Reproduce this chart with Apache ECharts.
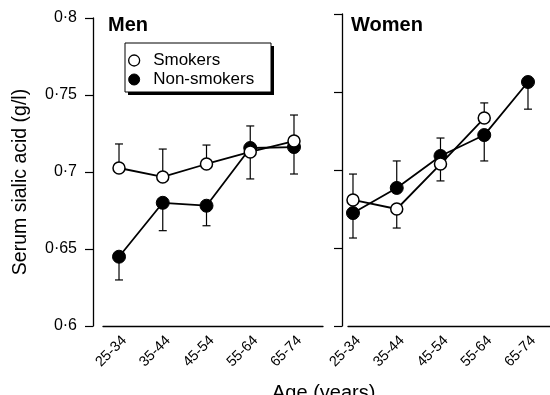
<!DOCTYPE html>
<html><head><meta charset="utf-8">
<script src="https://cdn.jsdelivr.net/npm/echarts@6/dist/echarts.min.js"></script>
<style>html,body{margin:0;padding:0;background:#fff}#c{width:550px;height:395px}</style>
</head><body><div id="c"></div>
<script>
const categories = ['25-34','35-44','45-54','55-64','65-74'];
const yTicks = [0.6, 0.65, 0.7, 0.75, 0.8];
const yTickLabels = ['0·6','0·65','0·7','0·75','0·8'];
// Men
const menSmokers = [0.7026, 0.6968, 0.7052, 0.713, 0.7201];
const menSmokersErr = [0.7182, 0.7149, 0.7175, 0.7299, 0.737];
const menNon = [0.645, 0.680, 0.6781, 0.7156, 0.7162];
const menNonErr = [0.6299, 0.6619, 0.6651, 0.6955, 0.6987];
// Women
const womenSmokers = [0.6808, 0.675, 0.7038, 0.7333, null];
const womenSmokersErr = [0.6974, 0.6628, 0.693, 0.743, null];
const womenNon = [0.6724, 0.6885, 0.709, 0.7224, 0.7564];
const womenNonErr = [0.6564, 0.7058, 0.7205, 0.7058, 0.739];

const FONT = 'Liberation Sans, Arial, Helvetica, sans-serif';

function pts(vals){ return vals.map((v,i)=>[i,v]).filter(d=>d[1]!=null); }
function errPts(vals, errs){ return vals.map((v,i)=>[i,v,errs[i]]).filter(d=>d[1]!=null && d[2]!=null); }
function errRender(params, api){
  const x = api.value(0), v = api.value(1), e = api.value(2);
  const p1 = api.coord([x, v]), p2 = api.coord([x, e]);
  const hw = 4;
  const st = {stroke:'#000', lineWidth:1.2};
  return {type:'group', children:[
    {type:'line', shape:{x1:p1[0],y1:p1[1],x2:p2[0],y2:p2[1]}, style:st},
    {type:'line', shape:{x1:p2[0]-hw,y1:p2[1],x2:p2[0]+hw,y2:p2[1]}, style:st}
  ]};
}
function xAxis(idx, min, max){
  return {
    type:'value', gridIndex:idx, min:min, max:max,
    axisLine:{show:true, onZero:false, lineStyle:{color:'#000', width:1.3}},
    axisTick:{show:false}, splitLine:{show:false},
    axisLabel:{customValues:[0,1,2,3,4], formatter:v=>categories[Math.round(v)],
      rotate:45, fontSize:14.5, color:'#000', fontFamily:FONT, margin:7,
      verticalAlign:'top'}
  };
}
function yAxis(idx, showLabels, offset){
  return {
    type:'value', gridIndex:idx, min:0.6, max:0.8, interval:0.05, offset:offset,
    axisLine:{show:true, onZero:false, lineStyle:{color:'#000', width:1.3}},
    axisTick:{show:true, length:8, lineStyle:{color:'#000', width:1.2}},
    splitLine:{show:false},
    axisLabel:{show:showLabels, fontSize:16, color:'#000', fontFamily:FONT, margin:16,
      formatter:v=>{const k=yTicks.findIndex(t=>Math.abs(t-v)<1e-6); return k>=0?yTickLabels[k]:'';}}
  };
}
const openStyle = {color:'#fff', borderColor:'#000', borderWidth:1.5};
const fillStyle = {color:'#000', borderColor:'#000', borderWidth:1};
function lineSeries(name, idx, data, filled){
  return {
    type:'line', name:name, xAxisIndex:idx, yAxisIndex:idx, data:data,
    symbol:'circle', symbolSize: filled?13:12, showSymbol:true,
    lineStyle:{color:'#000', width:1.8}, itemStyle: filled?fillStyle:openStyle,
    emphasis:{disabled:true}, animation:false, z: filled?3:4
  };
}
function errSeries(idx, data){
  return {type:'custom', name:'err', xAxisIndex:idx, yAxisIndex:idx, data:data,
    renderItem:errRender, encode:{x:0, y:[1,2]}, clip:false, z:2, silent:true, animation:false};
}

const chart = echarts.init(document.getElementById('c'), null, {renderer:'canvas'});
chart.setOption({
  backgroundColor:'#fff',
  animation:false,
  textStyle:{fontFamily:FONT},
  grid:[
    {left:103, top:18, width:220, height:308},
    {left:348, top:14, width:202, height:312}
  ],
  xAxis:[ xAxis(0, -0.366, 4.663), xAxis(1, -0.114, 4.503) ],
  yAxis:[ yAxis(0, true, 10), yAxis(1, false, 6) ],
  title:[
    {text:'Men', left:108, top:15, padding:0, textStyle:{fontSize:20, fontWeight:'bold', color:'#000', fontFamily:FONT}},
    {text:'Women', left:351, top:15, padding:0, textStyle:{fontSize:20, fontWeight:'bold', color:'#000', fontFamily:FONT}}
  ],
  legend:{
    orient:'vertical', left:128, top:52, z:10,
    padding:0, itemGap:2, itemWidth:20, itemHeight:11,
    icon:'circle',
    textStyle:{fontSize:17, color:'#000', fontFamily:FONT, lineHeight:16, padding:[0,0,0,4]},
    data:[
      {name:'Smokers', itemStyle:{color:'#fff', borderColor:'#000', borderWidth:1.3}},
      {name:'Non-smokers', itemStyle:{color:'#000', borderColor:'#000', borderWidth:1}}
    ]
  },
  graphic:[
    {type:'rect', z:1, shape:{x:128, y:46, width:146, height:49}, style:{fill:'#000'}},
    {type:'rect', z:2, shape:{x:125, y:43, width:146, height:49}, style:{fill:'#fff', stroke:'#000', lineWidth:1}},
    {type:'text', x:21, y:182, rotation:Math.PI/2,
      style:{text:'Serum sialic acid (g/l)', fill:'#000', font:'19.5px '+FONT, textAlign:'center', textVerticalAlign:'middle'}},
    {type:'text', x:272, y:383,
      style:{text:'Age (years)', fill:'#000', font:'20px '+FONT, textAlign:'left', textVerticalAlign:'top'}}
  ],
  series:[
    errSeries(0, errPts(menNon, menNonErr)),
    errSeries(0, errPts(menSmokers, menSmokersErr)),
    lineSeries('Non-smokers', 0, pts(menNon), true),
    lineSeries('Smokers', 0, pts(menSmokers), false),
    errSeries(1, errPts(womenNon, womenNonErr)),
    errSeries(1, errPts(womenSmokers, womenSmokersErr)),
    lineSeries('Non-smokers', 1, pts(womenNon), true),
    lineSeries('Smokers', 1, pts(womenSmokers), false)
  ]
});
</script></body></html>
